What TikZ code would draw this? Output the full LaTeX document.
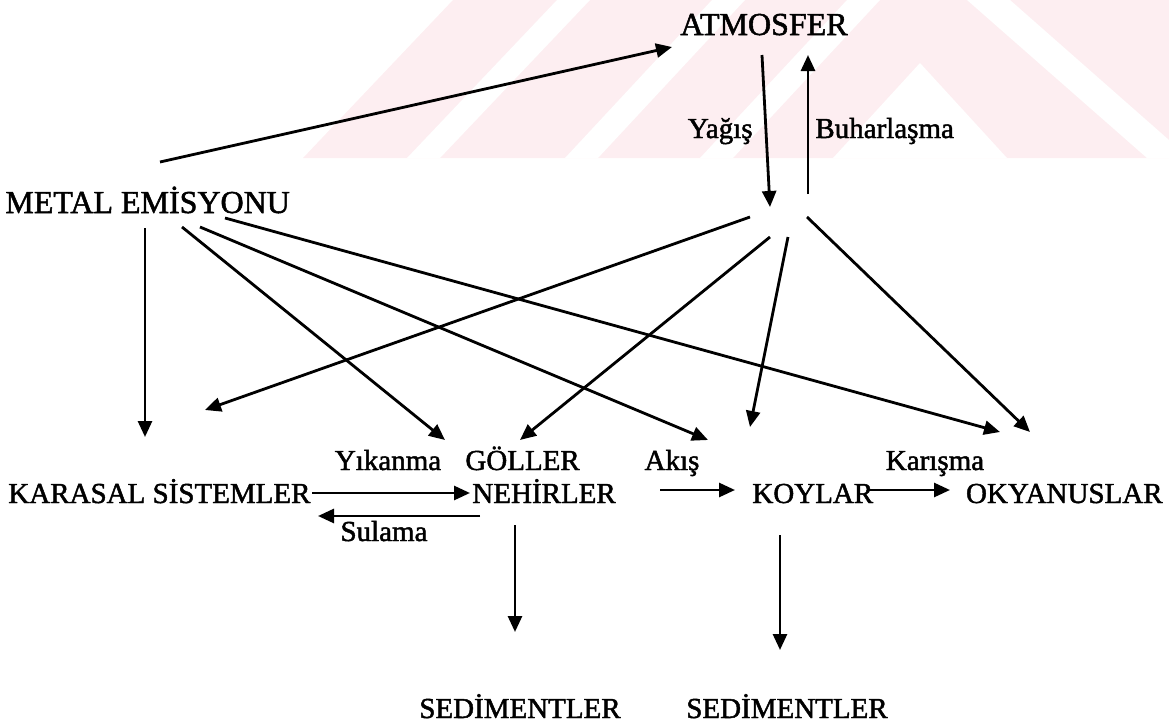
\documentclass[tikz,border=0pt]{standalone}
\usepackage{fontspec}
\setmainfont{Liberation Serif}[FakeBold=1.6]
\usetikzlibrary{arrows.meta}
\definecolor{wmpink}{HTML}{FDEEF1}

\begin{document}
\begin{tikzpicture}[x=0.5pt, y=-0.5pt,
  lbl/.style={inner sep=0pt, font=\fontsize{14.5}{17}\selectfont},
  biglbl/.style={inner sep=0pt, font=\fontsize{16}{19}\selectfont},
  flow/.style={-{Triangle[length=8pt,width=7pt]}, line width=1.4pt}
]
\useasboundingbox (0,0) rectangle (1169,728);

% faint watermark
\fill[wmpink] (303,158) -- (453,0) -- (1169,0) -- (1169,158) -- cycle;
\fill[white] (407,158) -- (440,158) -- (590,0) -- (557,0) -- cycle;
\fill[white] (565,158) -- (598,158) -- (745,0) -- (712,0) -- cycle;
\fill[white] (700,158) -- (733,158) -- (880,0) -- (847,0) -- cycle;
\fill[white] (833,158) -- (920,63) -- (1007,158) -- cycle;
\fill[white] (967,0) -- (1010,0) -- (1169,140) -- (1169,158) -- (1147,158) -- cycle;

% nodes
\node[biglbl, anchor=base] (atm) at (764,35) {ATMOSFER};
\node[biglbl, anchor=base west] (ems) at (5,213) {METAL EMİSYONU};
\node[lbl, anchor=base east] (yag) at (753,138) {Yağış};
\node[lbl, anchor=base west] (buh) at (815,138) {Buharlaşma};
\coordinate (hub) at (788,222);

\node[lbl, anchor=base west] (kar) at (8,503) {KARASAL SİSTEMLER};
\node[lbl, anchor=base] (yik) at (388,470) {Yıkanma};
\node[lbl, anchor=base west] (gol) at (465,470) {GÖLLER};
\node[lbl, anchor=base west] (neh) at (472,503) {NEHİRLER};
\node[lbl, anchor=base] (sul) at (384,541) {Sulama};
\node[lbl, anchor=base] (aks) at (672,470) {Akış};
\node[lbl, anchor=base west] (koy) at (752,503) {KOYLAR};
\node[lbl, anchor=base] (kms) at (935,470) {Karışma};
\node[lbl, anchor=base east] (oky) at (1163,503) {OKYANUSLAR};
\node[lbl, anchor=base] (sed1) at (520,718) {SEDİMENTLER};
\node[lbl, anchor=base] (sed2) at (787,718) {SEDİMENTLER};

% atmosphere
\draw[flow] ([shift={(-2,20)}]atm.base) -- ([shift={(-18,-15)}]hub);
\draw[flow] ([shift={(20,-28)}]hub) -- ([shift={(44,20)}]atm.base);

% from the atmosphere
\draw[flow] ([shift={(-38,-5)}]hub) -- ([shift={(197,-93)}]kar.base west);
\draw[flow] ([shift={(-18,15)}]hub) -- ([shift={(55,-30)}]gol.base west);
\draw[flow] ([shift={(0,15)}]hub) -- ([shift={(-2,-76)}]koy.base west);
\draw[flow] ([shift={(19,-5)}]hub) -- ([shift={(-133,-71)}]oky.base east);

% from the emission
\draw[flow] ([shift={(155,-51)}]ems.base west) -- ([shift={(-92,12)}]atm.base);
\draw[flow] ([shift={(140,15)}]ems.base west) -- ([shift={(137,-66)}]kar.base west);
\draw[flow] ([shift={(177,14)}]ems.base west) -- ([shift={(-20,-30)}]gol.base west);
\draw[flow] ([shift={(195,14)}]ems.base west) -- ([shift={(-44,-63)}]koy.base west);
\draw[flow] ([shift={(220,5)}]ems.base west) -- ([shift={(-163,-71)}]oky.base east);

% lower row
\draw[flow] ([shift={(304,-10)}]kar.base west) -- ([shift={(-2,-10)}]neh.base west);
\draw[flow] ([shift={(8,13)}]neh.base west) -- ([shift={(310,13)}]kar.base west);
\draw[flow] ([shift={(188,-13)}]neh.base west) -- ([shift={(-17,-13)}]koy.base west);
\draw[flow] ([shift={(115,-13)}]koy.base west) -- ([shift={(-213,-13)}]oky.base east);
\draw[flow] ([shift={(43,22)}]neh.base west) -- ([shift={(-5,-86)}]sed1.base);
\draw[flow] ([shift={(28,32)}]koy.base west) -- ([shift={(-7,-68)}]sed2.base);
\end{tikzpicture}
\end{document}
